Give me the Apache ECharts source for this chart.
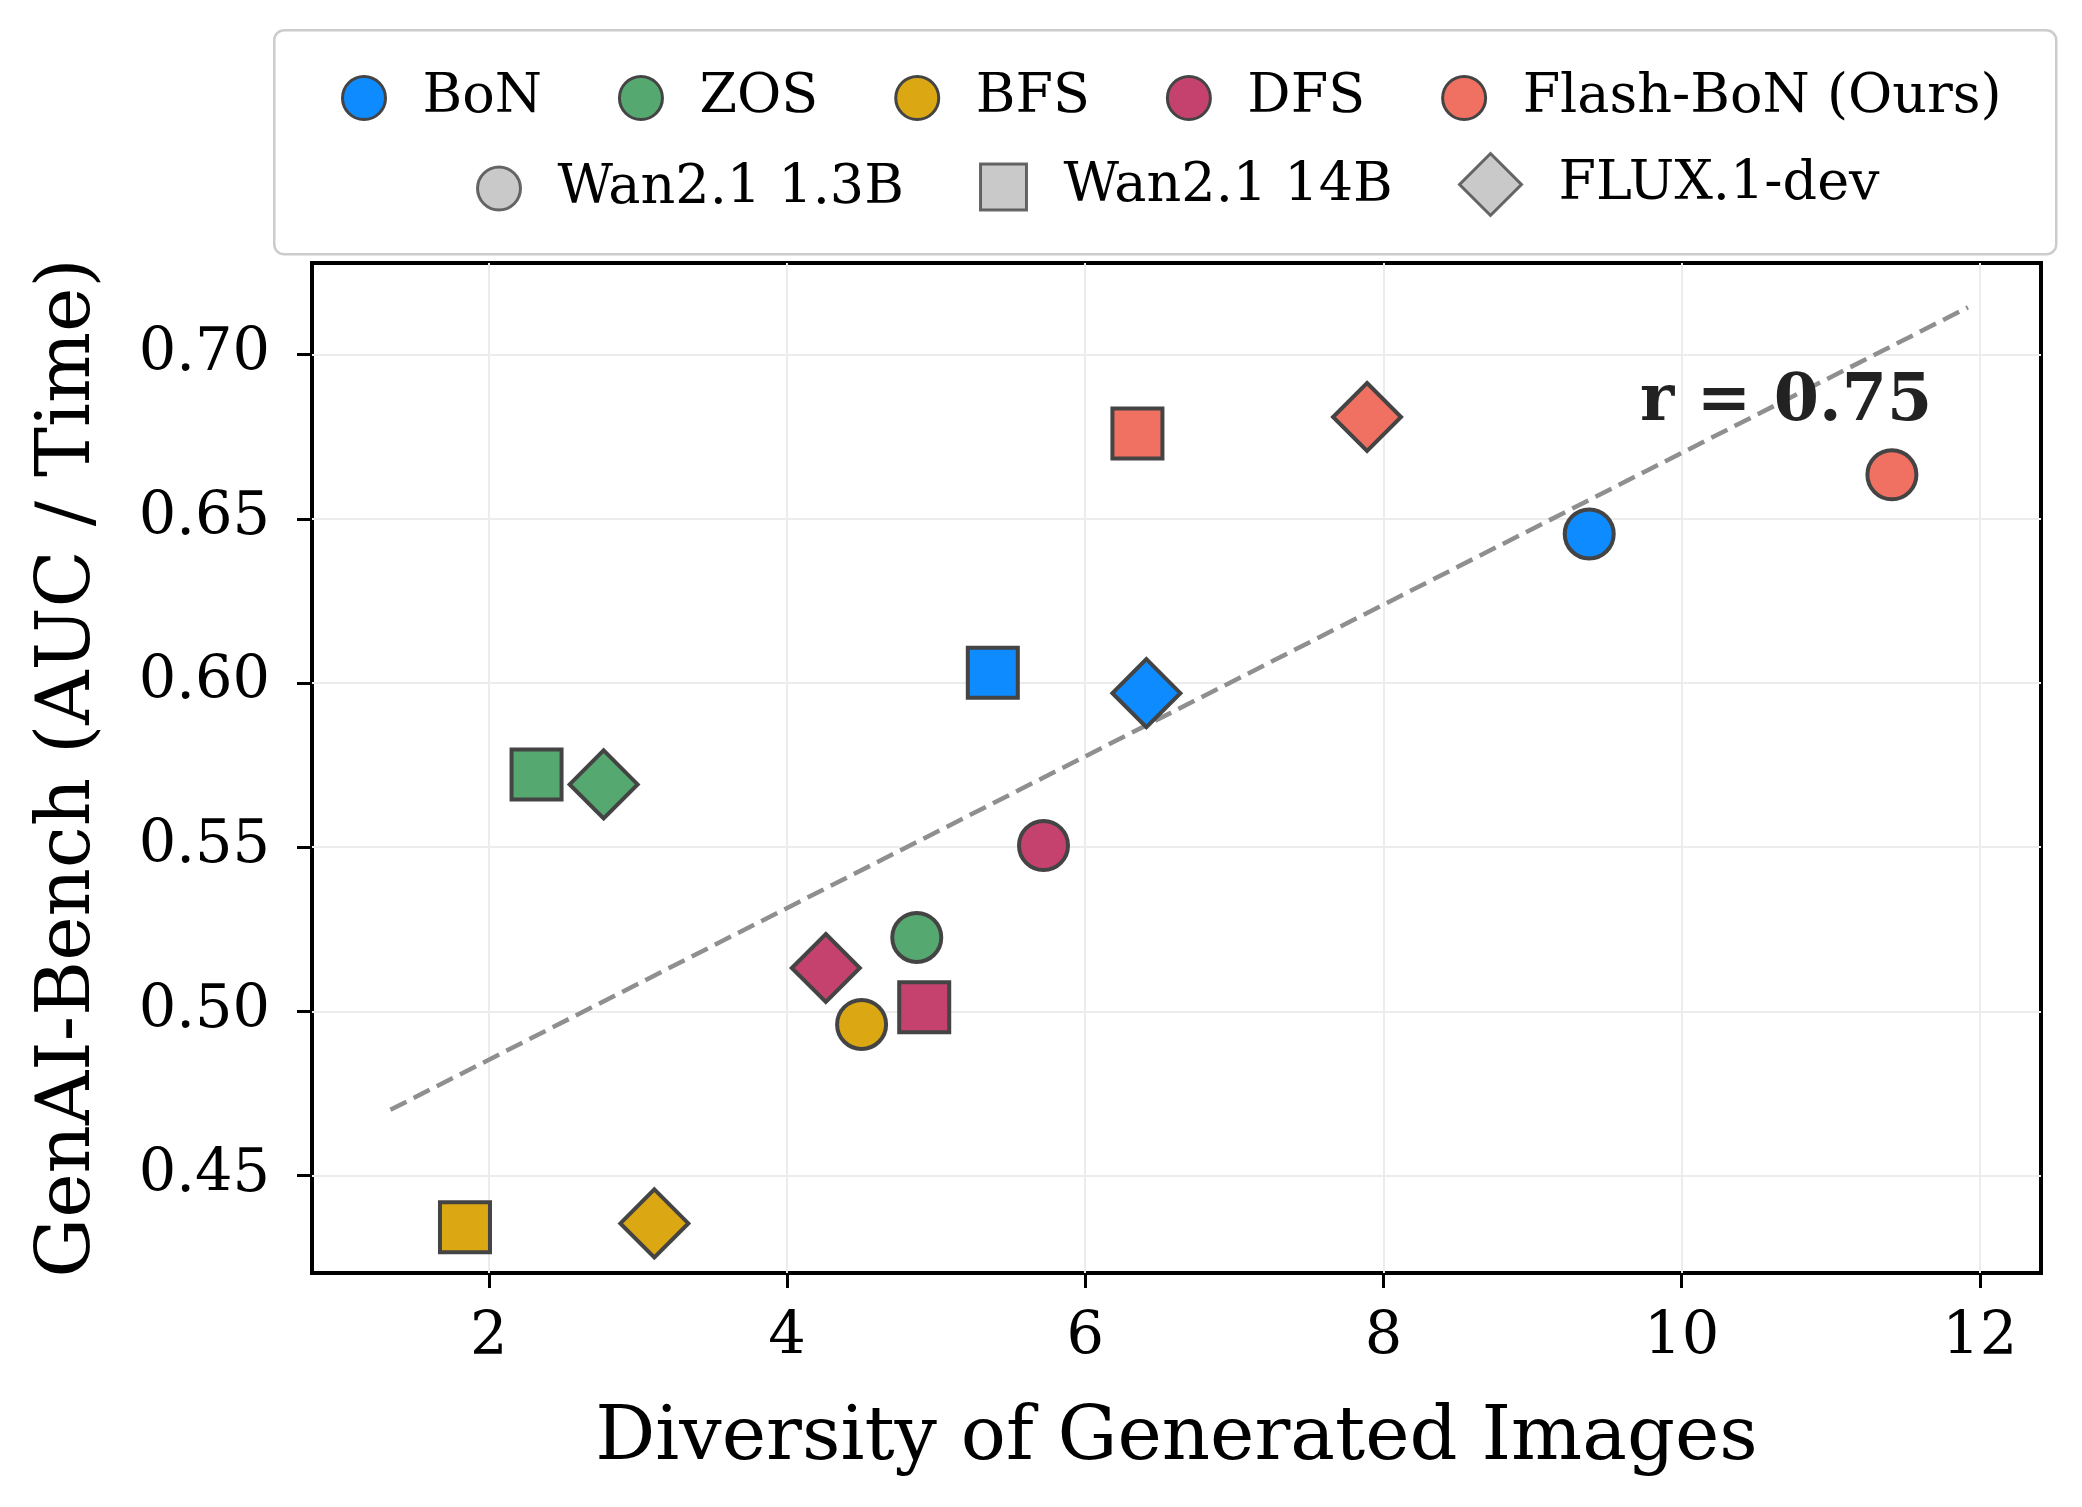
<!DOCTYPE html>
<html>
<head>
<meta charset="utf-8">
<script src="https://cdn.jsdelivr.net/npm/echarts@6/dist/echarts.min.js"></script>
<style>
    html, body { margin: 0; padding: 0; background: #fff; }
    #main { width: 2082px; height: 1507px; }
</style>
</head>
<body>
<div id="main"></div>
<script>
var methods = ['BoN', 'ZOS', 'BFS', 'DFS', 'Flash-BoN (Ours)'];
var models = ['Wan2.1 1.3B', 'Wan2.1 14B', 'FLUX.1-dev'];
// values per method, in model order: 1.3B, 14B, FLUX
var diversity = {
    'BoN': [9.38, 5.38, 6.41],
    'ZOS': [4.87, 2.32, 2.77],
    'BFS': [4.50, 1.84, 3.11],
    'DFS': [5.72, 4.92, 4.26],
    'Flash-BoN (Ours)': [11.41, 6.35, 7.89]
};
var aucPerTime = {
    'BoN': [0.6454, 0.6031, 0.5969],
    'ZOS': [0.5225, 0.5721, 0.5691],
    'BFS': [0.4960, 0.4342, 0.4354],
    'DFS': [0.5505, 0.5012, 0.5132],
    'Flash-BoN (Ours)': [0.6634, 0.6760, 0.6810]
};
var trendX = [1.34, 11.92];
var trendY = [0.470, 0.7144];
var xTicks = [2, 4, 6, 8, 10, 12];
var yTicks = [0.45, 0.50, 0.55, 0.60, 0.65, 0.70];

var methodColors = ['#0d8bff', '#55a870', '#dba712', '#c5426f', '#f07061'];
var modelSymbols = ['circle', 'rect', 'diamond'];
var modelSizes = [49, 50, 68];
var font = "'DejaVu Serif', serif";

var myChart = echarts.init(document.getElementById('main'));

var series = [];
methods.forEach(function (m, i) {
    series.push({
        name: m,
        type: 'scatter',
        z: 3,
        itemStyle: {color: methodColors[i], borderColor: '#444', borderWidth: 4, opacity: 1},
        data: diversity[m].map(function (x, k) {
            return {
                value: [x, aucPerTime[m][k]],
                symbol: modelSymbols[k],
                symbolSize: modelSizes[k]
            };
        })
    });
});
models.forEach(function (name) {
    series.push({name: name, type: 'scatter', data: [], itemStyle: {color: '#bbbbbb'}});
});
series.push({
    type: 'line',
    z: 1,
    silent: true,
    showSymbol: false,
    data: [[trendX[0], trendY[0]], [trendX[1], trendY[1]]],
    lineStyle: {color: '#8f8f8f', width: 4.5, type: [18, 8]},
    markPoint: {
        symbol: 'circle',
        symbolSize: 0,
        data: [{coord: [10.70, 0.6853]}],
        label: {
            show: true,
            position: 'inside',
            formatter: 'r = 0.75',
            fontFamily: font,
            fontWeight: 'bold',
            fontSize: 65,
            color: '#222'
        }
    }
});

var legendText = {fontFamily: font, fontSize: 54, color: '#000', padding: [0, 0, 0, 32]};
// legend has 5px padding by default, so positions are shifted by it
function modelLegend(k, left, size) {
    return {
        left: left - 5, top: 183 - size / 2 - 5,
        itemWidth: size, itemHeight: size,
        textStyle: legendText,
        selectedMode: false,
        data: [{
            name: models[k], icon: modelSymbols[k],
            itemStyle: {color: '#bbbbbb', borderColor: '#444', borderWidth: 3}
        }]
    };
}

var option = {
    animation: false,
    backgroundColor: '#fff',
    graphic: [{
        type: 'rect',
        left: 273, top: 29,
        shape: {width: 1782, height: 224, r: 10},
        style: {fill: '#fff', stroke: '#cccccc', lineWidth: 2.5},
        z: -1
    }],
    legend: [
        {
            left: 341 - 5, top: 93 - 22 - 5,
            itemWidth: 43, itemHeight: 43,
            itemGap: 76,
            textStyle: legendText,
            selectedMode: false,
            data: methods.map(function (m, i) {
                return {name: m, icon: 'circle',
                    itemStyle: {color: methodColors[i], borderColor: '#444', borderWidth: 3}};
            })
        },
        modelLegend(0, 476, 43),
        modelLegend(1, 979, 46),
        modelLegend(2, 1458, 62)
    ],
    grid: {
        left: 312,
        right: 41,
        top: 263,
        bottom: 234,
        show: true,
        borderColor: '#000',
        borderWidth: 4
    },
    xAxis: {
        type: 'value',
        min: 0.814,
        max: 12.41,
        name: 'Diversity of Generated Images',
        nameLocation: 'middle',
        nameGap: 129,
        nameTextStyle: {fontFamily: font, fontSize: 75, color: '#000'},
        axisLine: {show: false},
        axisTick: {show: true, length: 15, customValues: xTicks, lineStyle: {color: '#000', width: 3}},
        axisLabel: {customValues: xTicks, margin: 36, fontFamily: font, fontSize: 59, color: '#000'},
        splitLine: {show: true, lineStyle: {color: '#ececec', width: 2}}
    },
    yAxis: {
        type: 'value',
        min: 0.4203,
        max: 0.7279,
        name: 'GenAI-Bench (AUC / Time)',
        nameLocation: 'middle',
        nameGap: 205,
        nameTextStyle: {fontFamily: font, fontSize: 75, color: '#000'},
        axisLine: {show: false},
        axisTick: {show: true, length: 15, customValues: yTicks, lineStyle: {color: '#000', width: 3}},
        axisLabel: {
            customValues: yTicks, margin: 42, fontFamily: font, fontSize: 59, color: '#000',
            formatter: function (v) { return v.toFixed(2); }
        },
        splitLine: {show: true, lineStyle: {color: '#ececec', width: 2}}
    },
    series: series
};

myChart.setOption(option);
</script>
</body>
</html>
